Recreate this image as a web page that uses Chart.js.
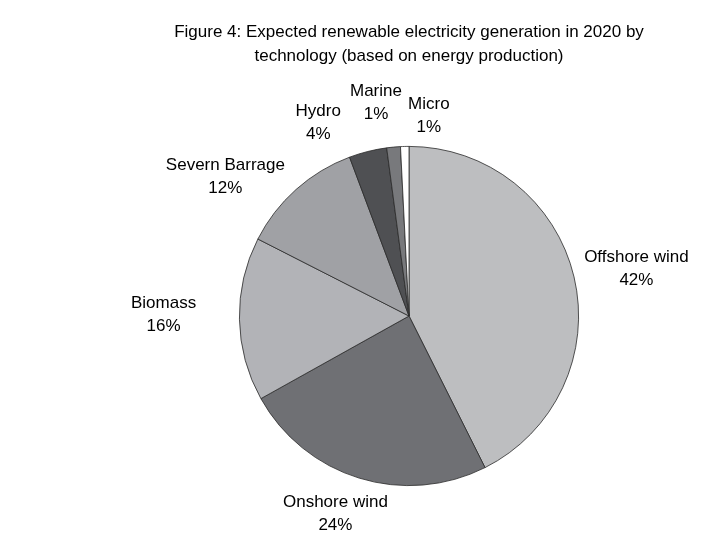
<!DOCTYPE html>
<html>
<head>
<meta charset="utf-8">
<script src="https://cdn.jsdelivr.net/npm/chart.js@4"></script>
<style>
  html, body { margin: 0; padding: 0; background: #ffffff; }
  #wrap { width: 716px; height: 538px; }
</style>
</head>
<body>
<div id="wrap"><canvas id="c" width="716" height="538"></canvas></div>
<script>
// ---- data ----
const categories = ['Offshore wind', 'Onshore wind', 'Biomass', 'Severn Barrage', 'Hydro', 'Marine', 'Micro'];
const shares = [42.6, 24.3, 15.6, 11.8, 3.6, 1.3, 0.8];
const percentLabels = ['42%', '24%', '16%', '12%', '4%', '1%', '1%'];
const titleLines = ['Figure 4: Expected renewable electricity generation in 2020 by', 'technology (based on energy production)'];

// ---- styling / layout ----
const sliceColors = ['#bdbec0', '#6f7074', '#b2b3b7', '#a0a1a5', '#4f5053', '#78797c', '#ffffff'];
// label placement: [angle nudge from slice middle (deg), distance as multiple of radius]
const labelLayout = [[1.5, 1.37], [3.3, 1.245], [1.3, 1.447], [-11.0, 1.36], [-11.1, 1.26], [-3.6, 1.27], [7.1, 1.185]];
const FONT = '"Liberation Sans", Arial, sans-serif';

const labelPlugin = {
  id: 'outsideLabels',
  afterDraw(chart) {
    const ctx = chart.ctx;
    const meta = chart.getDatasetMeta(0);
    ctx.save();
    ctx.fillStyle = '#000000';
    ctx.font = '17px ' + FONT;
    ctx.textAlign = 'center';
    ctx.textBaseline = 'middle';
    meta.data.forEach((arc, i) => {
      const p = arc.getProps(['x', 'y', 'startAngle', 'endAngle', 'outerRadius'], true);
      const mid = (p.startAngle + p.endAngle) / 2 + labelLayout[i][0] * Math.PI / 180;
      const d = p.outerRadius * labelLayout[i][1];
      const cx = p.x + Math.cos(mid) * d;
      const cy = p.y + Math.sin(mid) * d;
      ctx.fillText(categories[i], cx, cy - 11.5);
      ctx.fillText(percentLabels[i], cx, cy + 11.5);
    });
    ctx.restore();
  }
};

new Chart(document.getElementById('c'), {
  type: 'pie',
  data: {
    labels: categories,
    datasets: [{
      data: shares,
      backgroundColor: sliceColors,
      borderColor: '#2a2a2a',
      borderWidth: 0.8
    }]
  },
  options: {
    responsive: false,
    animation: false,
    layout: { padding: { left: 102, right: 0, top: 0, bottom: 52 } },
    plugins: {
      legend: { display: false },
      tooltip: { enabled: false },
      title: {
        display: true,
        text: titleLines,
        color: '#000000',
        font: { family: FONT, size: 17, weight: 'normal', lineHeight: 24 / 17 },
        padding: { top: 20, bottom: 78 }
      }
    }
  },
  plugins: [labelPlugin]
});
</script>
</body>
</html>
